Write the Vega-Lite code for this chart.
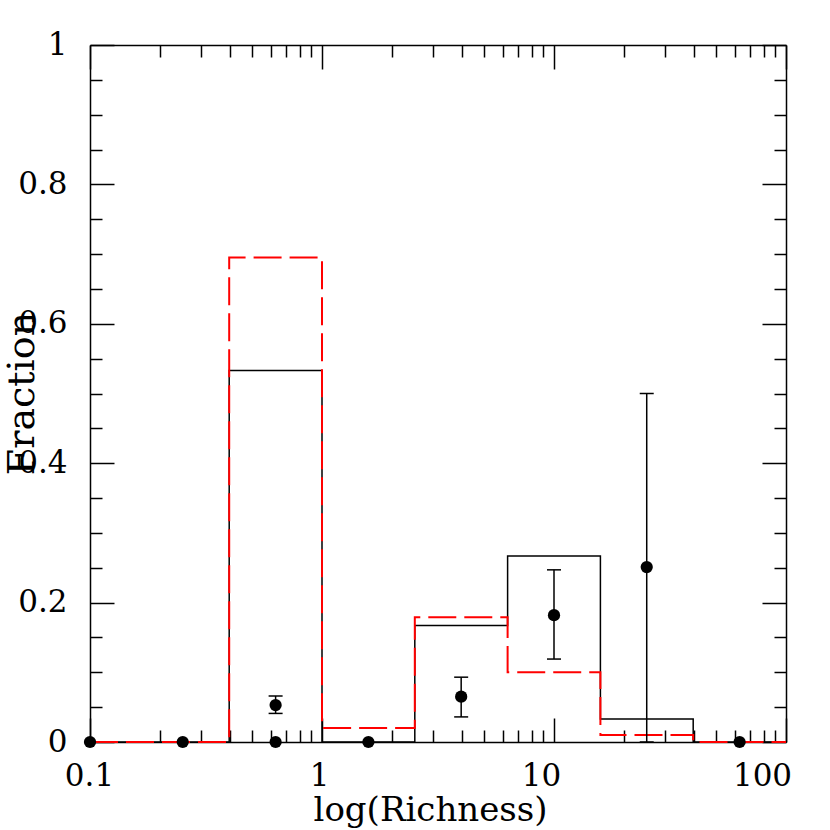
{
  "$schema": "https://vega.github.io/schema/vega-lite/v6.json",
  "width": 696,
  "height": 697,
  "autosize": "none",
  "padding": {"left": 90, "top": 45, "right": 44, "bottom": 88},
  "background": "white",
  "config": {
    "view": {"stroke": null},
    "axis": {
      "grid": false,
      "labelFont": "DejaVu Serif",
      "titleFont": "DejaVu Serif",
      "labelColor": "black",
      "titleColor": "black",
      "tickColor": "black",
      "domainColor": "black",
      "domainWidth": 1.5,
      "tickWidth": 1.5,
      "labelFontSize": 31,
      "titleFontWeight": "normal",
      "labelOverlap": false,
      "labelFlush": false
    }
  },
  "datasets": {
    "hist": [
      {"edge": 0.1, "black": 0, "red": 0},
      {"edge": 0.3981, "black": 0.533, "red": 0.695},
      {"edge": 1, "black": 0, "red": 0.02},
      {"edge": 2.512, "black": 0.167, "red": 0.179},
      {"edge": 6.31, "black": 0.267, "red": 0.1},
      {"edge": 15.85, "black": 0.033, "red": 0.01},
      {"edge": 39.81, "black": 0, "red": 0},
      {"edge": 100, "black": 0, "red": 0}
    ],
    "points": [
      {"x": 0.1, "y": 0},
      {"x": 0.251, "y": 0},
      {"x": 0.631, "y": 0},
      {"x": 1.585, "y": 0},
      {"x": 63.1, "y": 0},
      {"x": 0.631, "y": 0.053},
      {"x": 3.98, "y": 0.065},
      {"x": 10, "y": 0.182},
      {"x": 25.1, "y": 0.251}
    ],
    "errors": [
      {"x": 0.631, "lo": 0.041, "hi": 0.066},
      {"x": 3.98, "lo": 0.036, "hi": 0.093},
      {"x": 10, "lo": 0.119, "hi": 0.247},
      {"x": 25.1, "lo": 0, "hi": 0.5}
    ]
  },
  "layer": [
    {
      "data": {"name": "hist"},
      "mark": {"type": "line", "interpolate": "step-after", "color": "black", "strokeWidth": 1.5},
      "encoding": {
        "x": {
          "field": "edge", "type": "quantitative",
          "scale": {"type": "log", "domain": [0.1, 100], "nice": false},
          "axis": {
            "orient": "bottom",
            "values": [0.1, 1, 10, 100],
            "format": "~g",
            "labelPadding": 19,
            "labelOffset": {"condition": [{"test": "datum.value == 1", "value": -3}, {"test": "datum.value == 10", "value": -13}, {"test": "datum.value == 100", "value": -24}], "value": -1},
            "ticks": false,
            "domain": true,
            "title": "log(Richness)",
            "titleFontSize": 34,
            "titleX": 340,
            "titleY": 78,
            "titleBaseline": "alphabetic"
          }
        },
        "y": {
          "field": "black", "type": "quantitative",
          "scale": {"domain": [0, 1], "nice": false},
          "axis": {
            "orient": "left",
            "values": [0, 0.2, 0.4, 0.6, 0.8, 1],
            "format": "~g",
            "labelPadding": 23,
            "ticks": false,
            "domain": true,
            "title": "Fraction",
            "titleFontSize": 38,
            "titleX": -57,
            "titleY": 348,
            "titleAngle": 270,
            "titleBaseline": "alphabetic",
            "titleAlign": "center"
          }
        }
      }
    },
    {
      "data": {"name": "hist"},
      "mark": {"type": "line", "interpolate": "step-after", "color": "#ff0000", "strokeWidth": 2, "strokeDash": [28, 8]},
      "encoding": {
        "x": {
          "field": "edge", "type": "quantitative",
          "scale": {"type": "log", "domain": [0.1, 100], "nice": false},
          "axis": {
            "orient": "top",
            "values": [0.1,0.2,0.3,0.4,0.5,0.6,0.7,0.8,0.9,1,2,3,4,5,6,7,8,9,10,20,30,40,50,60,70,80,90,100],
            "labels": false,
            "ticks": true,
            "domain": true,
            "title": null,
            "tickSize": {"condition": {"test": "abs(log(datum.value)/LN10 - round(log(datum.value)/LN10)) < 0.001", "value": -24}, "value": -12}
          }
        },
        "y": {
          "field": "red", "type": "quantitative",
          "scale": {"domain": [0, 1], "nice": false},
          "axis": {
            "orient": "right",
            "values": [0,0.05,0.1,0.15,0.2,0.25,0.3,0.35,0.4,0.45,0.5,0.55,0.6,0.65,0.7,0.75,0.8,0.85,0.9,0.95,1],
            "labels": false,
            "ticks": true,
            "domain": true,
            "title": null,
            "tickSize": {"condition": {"test": "abs(datum.value*5 - round(datum.value*5)) < 0.001", "value": -24}, "value": -12}
          }
        }
      }
    },
    {
      "data": {"name": "errors"},
      "mark": {"type": "rule", "color": "black", "strokeWidth": 1.5},
      "encoding": {
        "x": {
          "field": "x", "type": "quantitative",
          "scale": {"type": "log", "domain": [0.1, 100], "nice": false},
          "axis": {
            "orient": "bottom",
            "values": [0.1,0.2,0.3,0.4,0.5,0.6,0.7,0.8,0.9,1,2,3,4,5,6,7,8,9,10,20,30,40,50,60,70,80,90,100],
            "labels": false,
            "ticks": true,
            "domain": false,
            "title": null,
            "tickSize": {"condition": {"test": "abs(log(datum.value)/LN10 - round(log(datum.value)/LN10)) < 0.001", "value": -24}, "value": -12}
          }
        },
        "y": {
          "field": "lo", "type": "quantitative",
          "scale": {"domain": [0, 1], "nice": false},
          "axis": {
            "orient": "left",
            "values": [0,0.05,0.1,0.15,0.2,0.25,0.3,0.35,0.4,0.45,0.5,0.55,0.6,0.65,0.7,0.75,0.8,0.85,0.9,0.95,1],
            "labels": false,
            "ticks": true,
            "domain": false,
            "title": null,
            "tickSize": {"condition": {"test": "abs(datum.value*5 - round(datum.value*5)) < 0.001", "value": -24}, "value": -12}
          }
        },
        "y2": {"field": "hi"}
      }
    },
    {
      "data": {"name": "errors"},
      "transform": [{"fold": ["lo", "hi"], "as": ["k", "v"]}],
      "mark": {"type": "tick", "orient": "horizontal", "color": "black", "size": 14, "thickness": 1.5, "opacity": 1},
      "encoding": {
        "x": {"field": "x", "type": "quantitative", "scale": {"type": "log", "domain": [0.1, 100], "nice": false}, "axis": null},
        "y": {"field": "v", "type": "quantitative", "scale": {"domain": [0, 1], "nice": false}, "axis": null}
      }
    },
    {
      "data": {"name": "points"},
      "mark": {"type": "circle", "color": "black", "size": 150, "opacity": 1},
      "encoding": {
        "x": {"field": "x", "type": "quantitative", "scale": {"type": "log", "domain": [0.1, 100], "nice": false}, "axis": null},
        "y": {"field": "y", "type": "quantitative", "scale": {"domain": [0, 1], "nice": false}, "axis": null}
      }
    }
  ],
  "resolve": {"axis": {"x": "independent", "y": "independent"}}
}
